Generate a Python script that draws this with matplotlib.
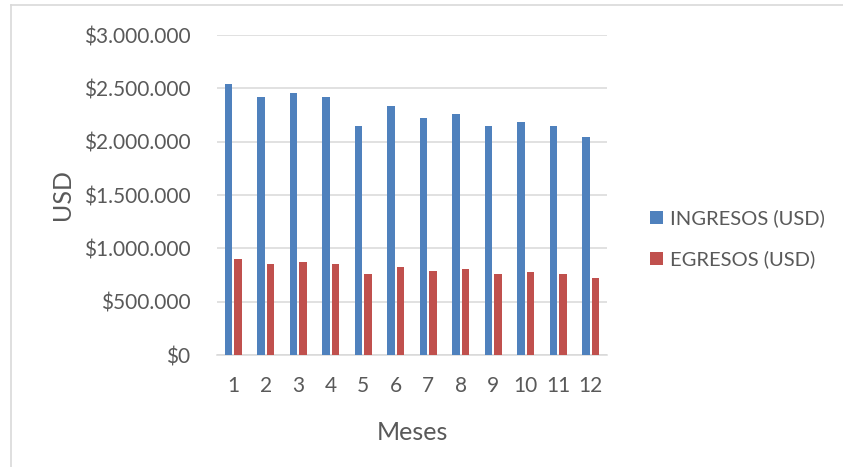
import matplotlib
matplotlib.use('Agg')
import matplotlib.pyplot as plt
from matplotlib.lines import Line2D
from matplotlib.ticker import FuncFormatter
import numpy as np

MESES = [str(m) for m in range(1, 13)]
INGRESOS = [2540000, 2420000, 2456000, 2416000, 2144000, 2337000,
            2222000, 2260000, 2147000, 2184000, 2150000, 2044000]
EGRESOS = [900000, 853000, 872000, 853000, 759000, 828000,
           787000, 803000, 762000, 775000, 759000, 722000]

BLUE = '#4F81BD'
RED = '#C0504D'
GRAY = '#595959'

plt.rcParams['font.family'] = ['Lato', 'DejaVu Sans']

fig = plt.figure(figsize=(8.43, 4.67), dpi=100)
ax = fig.add_axes([217 / 843, 1 - 355 / 467, 390 / 843, 320 / 467])

x = np.arange(len(MESES))
w = 0.235
gap = 0.025
ax.bar(x - w / 2 - gap, INGRESOS, width=w, color=BLUE, label='INGRESOS (USD)', zorder=3)
ax.bar(x + w / 2 + gap, EGRESOS, width=w, color=RED, label='EGRESOS (USD)', zorder=3)

ax.set_xlim(-0.5, len(MESES) - 0.5)
ax.set_ylim(0, 3000000)
ax.set_yticks(np.arange(0, 3000001, 500000))
ax.yaxis.set_major_formatter(FuncFormatter(
    lambda v, _: '$' + f'{int(v):,}'.replace(',', '.')))
ax.set_xticks(x)
ax.set_xticklabels(MESES)

ax.grid(axis='y', color='#D9D9D9', lw=1.1, zorder=0)
for s in ['top', 'right', 'left']:
    ax.spines[s].set_visible(False)
ax.spines['bottom'].set_color('#D9D9D9')
ax.spines['bottom'].set_linewidth(1.1)
ax.tick_params(length=0, labelsize=15, labelcolor=GRAY)
ax.tick_params(axis='x', pad=15)
ax.tick_params(axis='y', pad=19)

ax.set_xlabel('Meses', fontsize=18, color=GRAY, labelpad=18)
ax.set_ylabel('USD', fontsize=18, color=GRAY, labelpad=7)

leg = ax.legend(loc='center left', bbox_to_anchor=(640 / 843, 1 - 239 / 467),
                bbox_transform=fig.transFigure, frameon=False, borderpad=0,
                fontsize=14.5, labelcolor=GRAY, handlelength=0.65,
                handleheight=0.65, handletextpad=0.35, labelspacing=1.15)

# outer chart border (left and top edges visible)
fig.add_artist(Line2D([11 / 843, 11 / 843], [0, 1 - 5 / 467],
                      color='#D9D9D9', lw=1.2, transform=fig.transFigure))
fig.add_artist(Line2D([11 / 843, 1], [1 - 5 / 467, 1 - 5 / 467],
                      color='#D9D9D9', lw=1.2, transform=fig.transFigure))

fig.savefig('out.png', dpi=100)
plt.close(fig)
